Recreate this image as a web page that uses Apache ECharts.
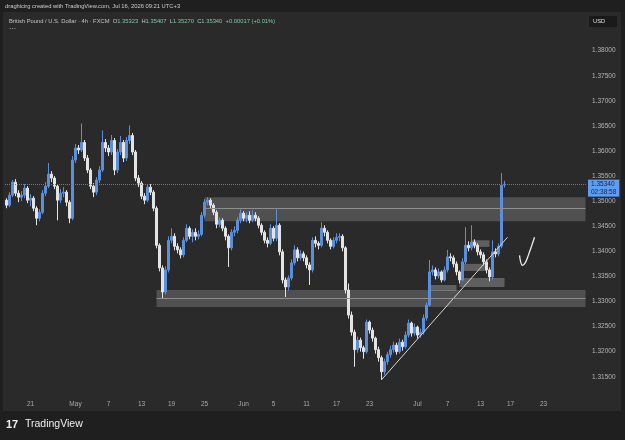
<!DOCTYPE html>
<html>
<head>
<meta charset="utf-8">
<script src="https://cdn.jsdelivr.net/npm/echarts@6/dist/echarts.min.js"></script>
<style>
  html, body { margin: 0; padding: 0; background: #1f1f1f; }
  #chart { width: 625px; height: 440px; }
</style>
</head>
<body>
<div id="chart"></div>
<script>
// GBPUSD 4h candles, [open, close, low, high]
const aprilCandles = [
  [1.3502, 1.3492, 1.3486, 1.3506], [1.3492, 1.3512, 1.3488, 1.3518], [1.3512, 1.3538, 1.3508, 1.3542],
  [1.3538, 1.3516, 1.3510, 1.3544], [1.3516, 1.3508, 1.3498, 1.3522], [1.3508, 1.3512, 1.3500, 1.3520],
  [1.3512, 1.3526, 1.3506, 1.3534], [1.3526, 1.3502, 1.3496, 1.3530], [1.3502, 1.3506, 1.3490, 1.3514],
  [1.3506, 1.3486, 1.3480, 1.3510], [1.3486, 1.3466, 1.3452, 1.3490], [1.3466, 1.3478, 1.3460, 1.3484],
  [1.3478, 1.3516, 1.3474, 1.3522], [1.3516, 1.3530, 1.3510, 1.3538], [1.3530, 1.3554, 1.3526, 1.3576],
  [1.3554, 1.3546, 1.3538, 1.3560], [1.3546, 1.3530, 1.3524, 1.3550], [1.3530, 1.3502, 1.3462, 1.3534],
  [1.3502, 1.3516, 1.3496, 1.3524], [1.3516, 1.3518, 1.3508, 1.3528], [1.3518, 1.3498, 1.3490, 1.3522],
  [1.3498, 1.3466, 1.3456, 1.3502], [1.3466, 1.3582, 1.3462, 1.3590]
];
const mayCandles = [
  [1.3582, 1.3606, 1.3576, 1.3614], [1.3606, 1.3602, 1.3594, 1.3612], [1.3602, 1.3617, 1.3598, 1.3655],
  [1.3617, 1.3586, 1.3580, 1.3622], [1.3586, 1.3562, 1.3556, 1.3592], [1.3562, 1.3530, 1.3524, 1.3566],
  [1.3530, 1.3518, 1.3508, 1.3536], [1.3518, 1.3542, 1.3512, 1.3548], [1.3542, 1.3562, 1.3536, 1.3570],
  [1.3562, 1.3617, 1.3558, 1.3641], [1.3617, 1.3606, 1.3598, 1.3624], [1.3606, 1.3598, 1.3590, 1.3612],
  [1.3598, 1.3621, 1.3592, 1.3632], [1.3621, 1.3562, 1.3552, 1.3626], [1.3562, 1.3598, 1.3556, 1.3604],
  [1.3598, 1.3617, 1.3592, 1.3630], [1.3617, 1.3586, 1.3578, 1.3622], [1.3586, 1.3621, 1.3580, 1.3628],
  [1.3621, 1.3631, 1.3614, 1.3651], [1.3631, 1.3598, 1.3592, 1.3636], [1.3598, 1.3546, 1.3540, 1.3602],
  [1.3546, 1.3536, 1.3528, 1.3552], [1.3536, 1.3510, 1.3504, 1.3540], [1.3510, 1.3502, 1.3494, 1.3516],
  [1.3502, 1.3528, 1.3498, 1.3534], [1.3528, 1.3518, 1.3512, 1.3534], [1.3518, 1.3486, 1.3480, 1.3522],
  [1.3486, 1.3412, 1.3406, 1.3490], [1.3412, 1.3367, 1.3360, 1.3416], [1.3367, 1.3319, 1.3306, 1.3372],
  [1.3319, 1.3363, 1.3314, 1.3370], [1.3363, 1.3422, 1.3358, 1.3430], [1.3422, 1.3430, 1.3416, 1.3446],
  [1.3430, 1.3410, 1.3402, 1.3436], [1.3410, 1.3403, 1.3396, 1.3416], [1.3403, 1.3393, 1.3386, 1.3408],
  [1.3393, 1.3422, 1.3388, 1.3428], [1.3422, 1.3446, 1.3418, 1.3454], [1.3446, 1.3430, 1.3424, 1.3450],
  [1.3430, 1.3438, 1.3418, 1.3444], [1.3438, 1.3430, 1.3422, 1.3446], [1.3430, 1.3434, 1.3424, 1.3442],
  [1.3434, 1.3472, 1.3430, 1.3478], [1.3472, 1.3498, 1.3466, 1.3504], [1.3498, 1.3502, 1.3492, 1.3508],
  [1.3502, 1.3492, 1.3486, 1.3506], [1.3492, 1.3478, 1.3472, 1.3496], [1.3478, 1.3454, 1.3446, 1.3482],
  [1.3454, 1.3462, 1.3448, 1.3468], [1.3462, 1.3446, 1.3440, 1.3466], [1.3446, 1.3430, 1.3422, 1.3450],
  [1.3430, 1.3407, 1.3369, 1.3434], [1.3407, 1.3438, 1.3402, 1.3444], [1.3438, 1.3442, 1.3430, 1.3450],
  [1.3442, 1.3462, 1.3436, 1.3468], [1.3462, 1.3476, 1.3456, 1.3484]
];
const juneCandles = [
  [1.3476, 1.3466, 1.3460, 1.3480], [1.3466, 1.3472, 1.3458, 1.3478], [1.3472, 1.3462, 1.3456, 1.3480],
  [1.3462, 1.3472, 1.3458, 1.3482], [1.3472, 1.3466, 1.3460, 1.3478], [1.3466, 1.3452, 1.3446, 1.3470],
  [1.3452, 1.3438, 1.3432, 1.3456], [1.3438, 1.3422, 1.3416, 1.3442], [1.3422, 1.3416, 1.3408, 1.3428],
  [1.3416, 1.3446, 1.3412, 1.3454], [1.3446, 1.3426, 1.3420, 1.3450], [1.3426, 1.3452, 1.3420, 1.3484],
  [1.3452, 1.3399, 1.3392, 1.3456], [1.3399, 1.3343, 1.3336, 1.3404], [1.3343, 1.3329, 1.3309, 1.3348],
  [1.3329, 1.3347, 1.3322, 1.3352], [1.3347, 1.3377, 1.3342, 1.3384], [1.3377, 1.3403, 1.3372, 1.3412],
  [1.3403, 1.3387, 1.3380, 1.3408], [1.3387, 1.3395, 1.3382, 1.3402], [1.3395, 1.3387, 1.3380, 1.3400],
  [1.3387, 1.3373, 1.3366, 1.3392], [1.3373, 1.3363, 1.3333, 1.3378], [1.3363, 1.3422, 1.3358, 1.3428],
  [1.3422, 1.3416, 1.3408, 1.3430], [1.3416, 1.3412, 1.3404, 1.3420], [1.3412, 1.3446, 1.3408, 1.3458],
  [1.3446, 1.3438, 1.3430, 1.3452], [1.3438, 1.3422, 1.3416, 1.3442], [1.3422, 1.3410, 1.3404, 1.3426],
  [1.3410, 1.3422, 1.3406, 1.3428], [1.3422, 1.3428, 1.3416, 1.3436], [1.3428, 1.3430, 1.3420, 1.3436],
  [1.3430, 1.3407, 1.3400, 1.3434], [1.3407, 1.3323, 1.3316, 1.3410], [1.3323, 1.3273, 1.3266, 1.3336],
  [1.3273, 1.3239, 1.3232, 1.3280], [1.3239, 1.3204, 1.3170, 1.3244], [1.3204, 1.3223, 1.3198, 1.3230],
  [1.3223, 1.3208, 1.3200, 1.3228], [1.3208, 1.3200, 1.3186, 1.3212], [1.3200, 1.3259, 1.3196, 1.3264],
  [1.3259, 1.3243, 1.3236, 1.3262], [1.3243, 1.3227, 1.3220, 1.3248], [1.3227, 1.3204, 1.3196, 1.3230],
  [1.3204, 1.3188, 1.3180, 1.3210], [1.3188, 1.3160, 1.3144, 1.3192], [1.3160, 1.3180, 1.3154, 1.3186],
  [1.3180, 1.3194, 1.3174, 1.3200], [1.3194, 1.3204, 1.3188, 1.3212], [1.3204, 1.3213, 1.3198, 1.3220],
  [1.3213, 1.3200, 1.3194, 1.3218], [1.3200, 1.3219, 1.3196, 1.3226], [1.3219, 1.3210, 1.3202, 1.3224],
  [1.3210, 1.3233, 1.3206, 1.3240], [1.3233, 1.3257, 1.3228, 1.3264], [1.3257, 1.3237, 1.3230, 1.3260],
  [1.3237, 1.3249, 1.3232, 1.3256]
];
const julyCandles = [
  [1.3249, 1.3233, 1.3226, 1.3252], [1.3233, 1.3239, 1.3228, 1.3246], [1.3239, 1.3267, 1.3234, 1.3274],
  [1.3267, 1.3293, 1.3262, 1.3298], [1.3293, 1.3359, 1.3290, 1.3383], [1.3359, 1.3363, 1.3352, 1.3372],
  [1.3363, 1.3351, 1.3344, 1.3368], [1.3351, 1.3359, 1.3346, 1.3366], [1.3359, 1.3343, 1.3338, 1.3362],
  [1.3343, 1.3363, 1.3340, 1.3370], [1.3363, 1.3389, 1.3358, 1.3403], [1.3389, 1.3387, 1.3380, 1.3396],
  [1.3387, 1.3375, 1.3368, 1.3392], [1.3375, 1.3359, 1.3352, 1.3380], [1.3359, 1.3343, 1.3336, 1.3362],
  [1.3343, 1.3379, 1.3340, 1.3386], [1.3379, 1.3412, 1.3374, 1.3448], [1.3412, 1.3407, 1.3400, 1.3420],
  [1.3407, 1.3418, 1.3402, 1.3452], [1.3418, 1.3412, 1.3406, 1.3424], [1.3412, 1.3399, 1.3392, 1.3416],
  [1.3399, 1.3393, 1.3386, 1.3404], [1.3393, 1.3379, 1.3372, 1.3398], [1.3379, 1.3363, 1.3356, 1.3384],
  [1.3363, 1.3349, 1.3340, 1.3368], [1.3349, 1.3399, 1.3344, 1.3422], [1.3399, 1.3395, 1.3388, 1.3406],
  [1.3395, 1.3410, 1.3390, 1.3416], [1.3410, 1.3532, 1.3406, 1.3556], [1.35323, 1.3534, 1.3527, 1.35407]
];

// time axis: slot count and tick labels at their slot index
const slotCount = 194;
const timeLabels = ['21', 'May', '7', '13', '19', '25', 'Jun', '5', '11', '17', '23', 'Jul', '7', '13', '17', '23'];
const timeLabelSlots = [8, 23, 34, 45, 55, 66, 79, 89, 100, 110, 121, 137, 147, 158, 168, 179];

const priceTicks = [1.315, 1.32, 1.325, 1.33, 1.335, 1.34, 1.345, 1.35, 1.355, 1.36, 1.365, 1.37, 1.375, 1.38];

// drawn zones: [startSlot, endSlot, top, bottom, midline]
const bigZones = [
  [66, 193, 1.3508, 1.3460, 1.3485],
  [50, 193, 1.3323, 1.3289, 1.3307]
];
const smallZones = [
  [141, 150, 1.3333, 1.3321],
  [151, 166, 1.3347, 1.3329],
  [152, 160, 1.3375, 1.3361],
  [155, 161, 1.3422, 1.3409]
];
const trendLine = [[125, 1.3144], [167, 1.3428]];
const checkSlots = [171, 172, 173, 174, 175, 176];
const checkPrices = [1.3392, 1.3372, 1.3378, 1.3393, 1.3410, 1.3428];

const lastPrice = 1.3534;
const countdown = '02:38:58';

const candles = aprilCandles.concat(mayCandles, juneCandles, julyCandles);
const slots = Array.from({ length: slotCount }, (_, i) => i);
const labelAt = {};
timeLabelSlots.forEach((s, i) => { labelAt[s] = timeLabels[i]; });
const tickSet = new Set(priceTicks.map(v => v.toFixed(3)));

const chart = echarts.init(document.getElementById('chart'));
const FONT = 'Liberation Sans';

chart.setOption({
  animation: false,
  backgroundColor: '#1f1f1f',
  grid: { left: 5, width: 582, top: 0.54, height: 401.3 },
  xAxis: {
    type: 'category',
    data: slots,
    boundaryGap: true,
    axisLine: { show: false },
    axisTick: { show: false },
    splitLine: { show: false },
    axisLabel: {
      interval: (idx) => labelAt[idx] !== undefined,
      formatter: (v, idx) => labelAt[idx] || '',
      color: '#a8a8a8',
      fontSize: 6.5,
      fontFamily: FONT,
      margin: -1
    }
  },
  yAxis: {
    type: 'value',
    position: 'right',
    min: 1.31,
    max: 1.39,
    interval: 0.005,
    scale: true,
    axisLine: { show: false },
    axisTick: { show: false },
    splitLine: { show: false },
    axisLabel: {
      margin: 5,
      color: '#b4b4b4',
      fontSize: 6.5,
      fontFamily: FONT,
      formatter: (v) => tickSet.has(v.toFixed(3)) ? v.toFixed(5) : ''
    }
  },
  graphic: [
    { type: 'rect', z: -10, shape: { x: 3, y: 12, width: 618, height: 399 }, style: { fill: '#2a2a2a' } },
    { type: 'text', x: 5, y: 3, style: { text: 'draghicirg created with TradingView.com, Jul 16, 2026 09:21 UTC+3', fill: '#cfcfcf', font: '5.8px Liberation Sans' } },
    { type: 'text', x: 9, y: 18, style: {
        rich: {
          t: { fill: '#c4c4c4', font: '5.8px Liberation Sans' },
          v: { fill: '#7ec8a4', font: '5.8px Liberation Sans' }
        },
        text: '{t|British Pound / U.S. Dollar · 4h · FXCM  O}{v|1.35323}{t|  H}{v|1.35407}{t|  L}{v|1.35270}{t|  C}{v|1.35340}{v|  +0.00017 (+0.01%)}'
      } },
    { type: 'text', x: 9, y: 26, style: { text: '···', fill: '#c4c4c4', font: '7px Liberation Sans' } },
    { type: 'rect', shape: { x: 589, y: 16, width: 28, height: 11 }, style: { fill: '#1a1a1a' } },
    { type: 'text', x: 593, y: 18.5, style: { text: 'USD', fill: '#e0e0e0', font: '5.8px Liberation Sans' } },
    { type: 'text', x: 6, y: 419, style: { text: '17', fill: '#f0f0f0', font: 'bold 11px Liberation Sans' } },
    { type: 'text', x: 25, y: 419, style: { text: 'TradingView', fill: '#f0f0f0', font: '500 10.5px Liberation Sans' } }
  ],
  series: [
    {
      type: 'candlestick',
      data: candles,
      barWidth: 1.6,
      itemStyle: {
        color: '#5b8fdc',
        color0: '#e4e4e4',
        borderColor: '#5b8fdc',
        borderColor0: '#e4e4e4',
        borderWidth: 1
      },
      markArea: {
        silent: true,
        data: bigZones.map(z => [
          { coord: [z[0], z[2]], itemStyle: { color: 'rgba(190,190,190,0.26)' } },
          { coord: [z[1], z[3]] }
        ]).concat(smallZones.map(z => [
          { coord: [z[0], z[2]], itemStyle: { color: 'rgba(200,200,200,0.34)' } },
          { coord: [z[1], z[3]] }
        ]))
      },
      markLine: {
        silent: true,
        symbol: 'none',
        precision: 5,
        data: [
          {
            yAxis: lastPrice,
            lineStyle: { color: '#7a7a7a', type: 'dotted', width: 1 },
            label: {
              show: true,
              position: 'end',
              distance: 1,
              offset: [0, 4],
              formatter: lastPrice.toFixed(5) + '\n' + countdown,
              backgroundColor: '#5f9df0',
              color: '#0f2747',
              fontSize: 6.5,
              fontFamily: FONT,
              lineHeight: 7.5,
              padding: [1, 3, 1, 3]
            }
          },
          [
            { coord: trendLine[0], lineStyle: { color: '#d8d8d8', width: 1, type: 'solid' }, label: { show: false } },
            { coord: trendLine[1] }
          ]
        ].concat(bigZones.map(z => [
          { coord: [z[0], z[4]], lineStyle: { color: '#8e8e8e', width: 1, type: 'solid' }, label: { show: false } },
          { coord: [z[1], z[4]] }
        ]))
      }
    },
    {
      type: 'line',
      data: checkSlots.map((s, i) => [s, checkPrices[i]]),
      smooth: 0.4,
      symbol: 'none',
      lineStyle: { color: '#ececec', width: 1.3 }
    }
  ]
});
</script>
</body>
</html>
